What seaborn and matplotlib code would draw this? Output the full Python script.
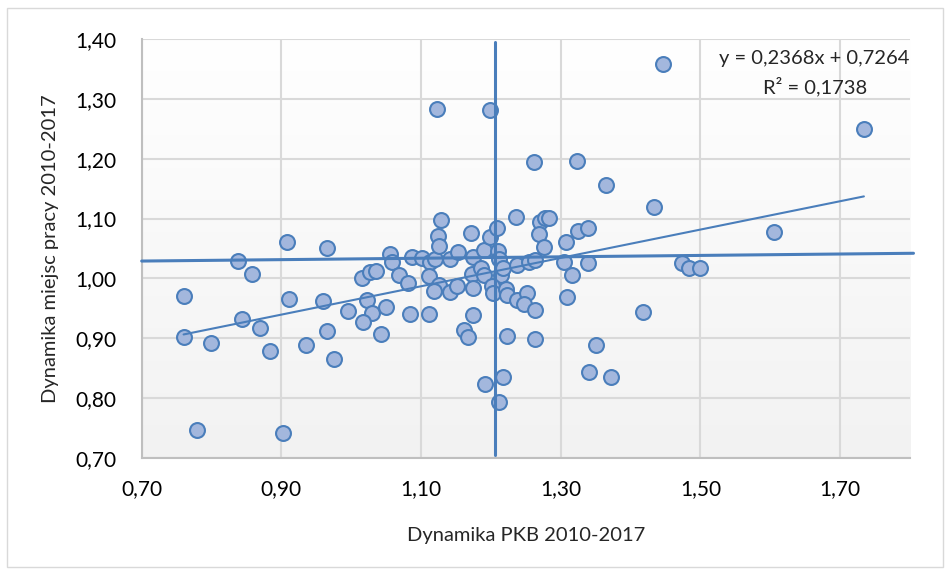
import numpy as np
import pandas as pd
import matplotlib
matplotlib.use('Agg')
import matplotlib.pyplot as plt
import seaborn as sns
from matplotlib.ticker import FuncFormatter
from matplotlib.patches import Rectangle

# dane
pkb = [0.761, 0.760, 0.799, 0.779, 0.902, 0.838, 0.858, 0.908, 0.966, 0.843,
       0.870, 0.884, 0.911, 0.935, 0.960, 0.966, 0.976, 0.995, 1.016, 1.027,
       1.035, 1.023, 1.030, 1.017, 1.050, 1.043, 1.056, 1.058, 1.069, 1.081,
       1.084, 1.087, 1.102, 1.113, 1.112, 1.120, 1.125, 1.118, 1.112, 1.128,
       1.124, 1.125, 1.142, 1.153, 1.142, 1.152, 1.172, 1.175, 1.173, 1.174,
       1.175, 1.186, 1.190, 1.190, 1.198, 1.208, 1.210, 1.211, 1.214, 1.218,
       1.202, 1.203, 1.222, 1.223, 1.238, 1.238, 1.252, 1.247, 1.263, 1.236,
       1.255, 1.263, 1.270, 1.277, 1.283, 1.269, 1.276, 1.307, 1.304, 1.316,
       1.309, 1.324, 1.339, 1.339, 1.323, 1.365, 1.433, 1.418, 1.350, 1.473,
       1.484, 1.499, 1.340, 1.372, 1.218, 1.191, 1.211, 1.223, 1.263, 1.162,
       1.167, 1.123, 1.198, 1.261, 1.447, 1.734, 1.605]
praca = [0.970, 0.902, 0.892, 0.747, 0.741, 1.029, 1.007, 1.060, 1.050, 0.932,
         0.917, 0.878, 0.966, 0.888, 0.962, 0.912, 0.865, 0.945, 1.001, 1.010,
         1.013, 0.964, 0.942, 0.927, 0.952, 0.907, 1.040, 1.027, 1.005, 0.993,
         0.940, 1.036, 1.034, 1.028, 1.004, 1.032, 0.989, 0.979, 0.941, 1.097,
         1.071, 1.054, 1.032, 1.044, 0.977, 0.987, 1.076, 1.035, 1.008, 0.984,
         0.939, 1.018, 1.047, 1.005, 1.070, 1.085, 1.045, 1.032, 1.005, 1.018,
         0.987, 0.975, 0.983, 0.973, 1.023, 0.964, 0.976, 0.958, 0.948, 1.102,
         1.028, 1.030, 1.094, 1.101, 1.101, 1.075, 1.053, 1.061, 1.027, 1.005,
         0.969, 1.079, 1.085, 1.025, 1.196, 1.156, 1.120, 0.944, 0.888, 1.026,
         1.018, 1.018, 0.844, 0.836, 0.836, 0.823, 0.793, 0.904, 0.898, 0.913,
         0.902, 1.283, 1.282, 1.194, 1.359, 1.249, 1.077]

# linia trendu (z równania na wykresie)
slope = 0.2368
intercept = 0.7264
r2 = 0.1738

# linie pomocnicze
vline_x = [1.2065, 1.2065]
vline_y = [0.705, 1.395]
hline_x = [0.70, 1.805]
hline_y = [1.029, 1.042]

x_ticks = [0.70, 0.90, 1.10, 1.30, 1.50, 1.70]
y_ticks = [0.70, 0.80, 0.90, 1.00, 1.10, 1.20, 1.30, 1.40]

df = pd.DataFrame({'pkb': pkb, 'praca': praca})

sns.set_style("white")
plt.rcParams['font.family'] = ['Lato', 'DejaVu Sans']

fig = plt.figure(figsize=(9.49, 5.69), dpi=100)
ax = fig.add_axes([0.1493, 0.1951, 0.8096, 0.7364])

# ramka wykresu
fig.patches.append(Rectangle((0.007, 0.004), 0.987, 0.982, transform=fig.transFigure,
                             fill=False, edgecolor='#D9D9D9', linewidth=1.0))

# tło z gradientem
grad = np.linspace(1.0, 0.0, 256).reshape(-1, 1)
ax.imshow(grad, extent=[0.70, 1.80, 0.70, 1.40], aspect='auto',
          cmap=matplotlib.colors.LinearSegmentedColormap.from_list('g', ['#F2F2F2', '#FFFFFF']),
          zorder=0, origin='upper')

ax.set_xlim(0.70, 1.80)
ax.set_ylim(0.70, 1.40)
ax.set_xticks(x_ticks)
ax.set_yticks(y_ticks)
fmt = FuncFormatter(lambda v, p: f'{v:.2f}'.replace('.', ','))
ax.xaxis.set_major_formatter(fmt)
ax.yaxis.set_major_formatter(fmt)
ax.grid(True, color='#D9D9D9', linewidth=1.5, zorder=1)
ax.set_axisbelow(True)

for s in ['top', 'right']:
    ax.spines[s].set_visible(False)
for s in ['left', 'bottom']:
    ax.spines[s].set_color('#BFBFBF')
    ax.spines[s].set_linewidth(1.5)

ax.tick_params(axis='both', length=0, labelsize=15, colors='#000000')
ax.tick_params(axis='x', pad=15)
ax.tick_params(axis='y', pad=18)

# punkty
sns.scatterplot(data=df, x='pkb', y='praca', ax=ax, s=115, color='#A3B7DD',
                edgecolor='#4A7EBB', linewidth=1.5, zorder=3, clip_on=False)

# linie pomocnicze
ax.plot(hline_x, hline_y, color='#4A7EBB', linewidth=2.2, zorder=4, clip_on=False)
ax.plot(vline_x, vline_y, color='#4A7EBB', linewidth=2.2, zorder=4)

# linia trendu
tx = np.array([min(pkb), max(pkb)])
ax.plot(tx, slope * tx + intercept, color='#4A7EBB', linewidth=1.5, zorder=4)

eq = f'y = {slope:.4f}x + {intercept:.4f}'.replace('.', ',')
r2_txt = f'R² = {r2:.4f}'.replace('.', ',')
ax.text(1.6625, 1.368, eq, ha='center', va='center', fontsize=14.5, zorder=5)
ax.text(1.664, 1.321, r2_txt, ha='center', va='center', fontsize=14.5, zorder=5)

ax.set_xlabel('Dynamika PKB 2010-2017', fontsize=14.5, labelpad=20)
ax.set_ylabel('Dynamika miejsc pracy 2010-2017', fontsize=14.5, labelpad=12)

plt.savefig('out.png', dpi=100)
plt.close()
